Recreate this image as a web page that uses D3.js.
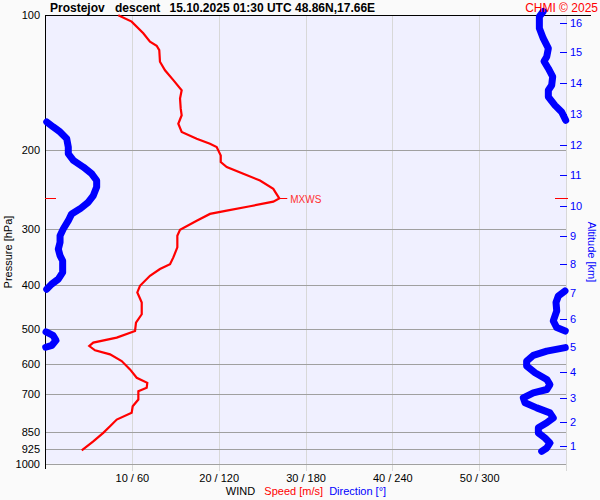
<!DOCTYPE html>
<html lang="en">
<head>
<meta charset="UTF-8">
<title>Prostejov descent</title>
<script src="https://d3js.org/d3.v7.min.js"></script>
<style>
  body { margin: 0; background: #fafafa; }
  svg { display: block; font-family: "Liberation Sans", Arial, sans-serif; }
  .tick line { shape-rendering: crispEdges; }
</style>
</head>
<body>
<svg id="chart" width="600" height="500"></svg>
<script>
// pressure levels (hPa) for grid + left labels
const pressureTicks = [100, 200, 300, 400, 500, 600, 700, 850, 925, 1000];
// speed ticks (m/s); direction = speed * 6
const speedTicks = [10, 20, 30, 40, 50];
// altitude ticks (km) and the pressure they sit at in this sounding
const altKm = [1, 2, 3, 4, 5, 6, 7, 8, 9, 10, 11, 12, 13, 14, 15, 16];
const altP = [913, 806, 712.5, 625.5, 548.4, 476.4, 415.6, 358.6, 310.1, 266.2, 227.4, 194.4, 166.3, 141.8, 120.9, 103.9];

// wind speed profile
const speedP = [100, 103.3, 109.7, 114.5, 116.9, 119.6, 126.9, 132.6, 139.5, 146.9, 153.3, 161.5, 167.1, 174.5, 182.1, 188.5,
  193.4, 196.7, 205.4, 212.5, 218.0, 225.7, 233.6, 243.8, 256, 260.3, 266.6, 272.7, 277.3, 287.1, 300.7, 310.1, 329.2,
  346.7, 358.9, 368.1, 381.1, 401.2, 415.0, 428.1, 437.0, 464.2, 484.4, 505.8, 523.4, 537.0, 546.5, 558.7, 570.4, 590.3,
  616.2, 643.2, 660.0, 677.1, 689.1, 719.1, 744.4, 770.2, 797.2, 825.2, 853.7, 891.5, 933.8];
const speed = [8.44, 9.98, 11.32, 12.09, 12.86, 13.16, 13.24, 13.82, 14.78, 15.74, 15.55, 15.63, 15.74, 15.35, 15.74, 17.47,
  19.0, 19.77, 20.24, 20.24, 20.93, 22.84, 24.76, 26.29, 26.98, 26.29, 23.61, 20.93, 19.0, 17.47, 15.55, 15.24, 15.24,
  14.78, 14.40, 13.24, 12.09, 10.94, 10.63, 10.94, 11.14, 11.14, 10.48, 10.37, 8.26, 5.56, 5.10, 5.76, 7.49, 8.83,
  9.79, 10.56, 11.78, 11.71, 10.75, 10.75, 10.10, 9.98, 8.26, 7.49, 6.71, 5.56, 4.23];

// wind direction profile (deg)
const dirP = [98, 100.7, 106.9, 112.6, 118.5, 123.7, 126.6, 131.4, 137.1, 143.2, 146.9, 152.0, 158.8, 164.3, 171.5,
  172.9, 177.4, 182.0, 188.4, 196.7, 203.6, 210.7, 218.0, 225.7, 233.6, 241.6, 252.4, 261.1, 270.2, 277.3, 287.1, 299.6,
  310.1, 320.8, 332.1, 343.7, 352.7, 374.5, 387.6, 397.7, 408.1,
  411.8, 422.6, 437.0, 456.3, 480.4, 497.1, 506,
  508, 517.3, 530.7, 544.5, 550,
  551, 561.0, 573.3, 590.3, 605.7, 626.8, 648.8, 665.9, 683.2, 694.9, 712.9, 731.6, 750.7, 770.2, 790.2, 810.6, 831.8,
  853.7, 876.1, 899.1, 922.5, 938.8];
const dir = [344.3, 341.6, 341.6, 344.3, 347.8, 346.7, 344.8, 347.8, 350.8, 350.1, 347.8, 347.8, 352.4, 357.0, 359.8,
  1.2, 5.7, 10.4, 15.0, 16.1, 16.1, 19.6, 26.5, 32.3, 35.7, 35.7, 33.4, 29.9, 24.2, 18.4, 16.1, 12.6,
  10.4, 10.4, 9.2, 10.4, 12.2, 12.2, 9.2, 4.6, 1.2,
  359.3, 354.7, 353.1, 353.6, 351.2, 353.6, 359.5,
  0.7, 5.5, 7.6, 4.8, 0.5,
  359.5, 346.7, 337.4, 332.8, 332.8, 338.6, 346.7, 348.9, 346.7, 337.4, 330.5, 331.7, 339.8, 348.9, 351.2, 346.7, 340.9,
  340.9, 345.5, 348.9, 346.7, 343.2];

const plotL = 45, plotR = 566, plotT = 15.3, plotB = 463.7;

const svg = d3.select("#chart");

const y = d3.scaleLog().domain([100, 1000]).range([plotT, plotB]);
const xs = d3.scaleLinear().domain([0, 60]).range([plotL, plotR]);
const xd = d3.scaleLinear().domain([0, 360]).range([plotL, plotR]);

// plot background
svg.append("rect")
  .attr("x", plotL).attr("y", plotT)
  .attr("width", plotR - plotL).attr("height", plotB - plotT)
  .attr("fill", "#f0f0ff");

// vertical grid
svg.append("g").selectAll("line")
  .data(speedTicks.concat([60]))
  .join("line")
  .attr("x1", d => Math.round(xs(d)) + 0.5).attr("x2", d => Math.round(xs(d)) + 0.5)
  .attr("y1", plotT).attr("y2", 471)
  .attr("stroke", "#d8d8d8");

// horizontal grid
svg.append("g").selectAll("line")
  .data(pressureTicks.slice(1))
  .join("line")
  .attr("x1", plotL).attr("x2", plotR)
  .attr("y1", d => Math.round(y(d)) + 0.5).attr("y2", d => Math.round(y(d)) + 0.5)
  .attr("stroke", "#a0a0a0");

// pressure labels
const yAxis = svg.append("g")
  .attr("transform", `translate(${plotL},0)`)
  .call(d3.axisLeft(y).tickValues(pressureTicks).tickFormat(d3.format("d")).tickSize(0).tickPadding(5));
yAxis.select(".domain").remove();
yAxis.selectAll("text").attr("font-size", 11).attr("fill", "#000").attr("font-family", "Liberation Sans, Arial, sans-serif");

// speed / direction labels
const xAxis = svg.append("g")
  .attr("transform", "translate(0,471)")
  .call(d3.axisBottom(xs).tickValues(speedTicks).tickFormat(d => `${d} / ${d * 6}`).tickSize(0).tickPadding(3));
xAxis.select(".domain").remove();
xAxis.selectAll("text").attr("font-size", 11).attr("fill", "#000").attr("font-family", "Liberation Sans, Arial, sans-serif");

// altitude axis
const altAxis = svg.append("g")
  .attr("transform", "translate(560,0)")
  .call(d3.axisRight(y).tickValues(altP).tickFormat((d, i) => altKm[i]).tickSize(7).tickPadding(3));
altAxis.select(".domain").remove();
altAxis.selectAll("line").attr("stroke", "#0000ff");
altAxis.selectAll("text").attr("font-size", 11).attr("fill", "#0000ff").attr("font-family", "Liberation Sans, Arial, sans-serif");

// frame lines
svg.append("line").attr("x1", plotL).attr("x2", 591).attr("y1", 15.5).attr("y2", 15.5).attr("stroke", "#000");
svg.append("line").attr("x1", plotL + 0.5).attr("x2", plotL + 0.5).attr("y1", 15).attr("y2", 469).attr("stroke", "#000");

// wind direction: split where it wraps through north
const dirSegs = [];
let seg = [];
dir.forEach((d, i) => {
  if (i > 0 && Math.abs(d - dir[i - 1]) > 180) { dirSegs.push(seg); seg = []; }
  seg.push([d, dirP[i]]);
});
dirSegs.push(seg);

const dirLine = d3.line().x(d => xd(d[0])).y(d => y(d[1]));
svg.append("g").selectAll("path")
  .data(dirSegs)
  .join("path")
  .attr("d", dirLine)
  .attr("fill", "none")
  .attr("stroke", "#0000ff")
  .attr("stroke-width", 7)
  .attr("stroke-linecap", "round")
  .attr("stroke-linejoin", "round");

// wind speed
const spd = speed.map((s, i) => [s, speedP[i]]);
svg.append("path")
  .datum(spd)
  .attr("d", d3.line().x(d => xs(d[0])).y(d => y(d[1])))
  .attr("fill", "none")
  .attr("stroke", "#ff0000")
  .attr("stroke-width", 2.2);

// max wind marker
const mx = spd[d3.maxIndex(spd, d => d[0])];
const my = Math.round(y(mx[1])) + 0.5;
svg.append("line").attr("x1", xs(mx[0])).attr("x2", xs(mx[0]) + 8).attr("y1", my).attr("y2", my).attr("stroke", "#ff0000");
svg.append("line").attr("x1", plotL).attr("x2", plotL + 11).attr("y1", my).attr("y2", my).attr("stroke", "#ff0000");
svg.append("line").attr("x1", 555).attr("x2", 568).attr("y1", my).attr("y2", my).attr("stroke", "#ff0000");
svg.append("text").attr("x", xs(mx[0]) + 11).attr("y", my + 4)
  .attr("font-size", 10).attr("fill", "#ff3030").text("MXWS");

// title
const title = [["Prostejov", 50], ["descent", 115], ["15.10.2025 01:30 UTC", 169.5], ["48.86N,17.66E", 295]];
svg.append("g").selectAll("text")
  .data(title)
  .join("text")
  .attr("x", d => d[1]).attr("y", 12)
  .attr("font-size", 12).attr("font-weight", "bold")
  .text(d => d[0]);
svg.append("text").attr("x", 598).attr("y", 12).attr("text-anchor", "end")
  .attr("font-size", 12).attr("fill", "#ff0000").text("CHMI © 2025");

// axis titles
svg.append("text")
  .attr("transform", "translate(12,252) rotate(-90)")
  .attr("text-anchor", "middle").attr("font-size", 11)
  .text("Pressure [hPa]");
svg.append("text")
  .attr("transform", "translate(588,252) rotate(90)")
  .attr("text-anchor", "middle").attr("font-size", 11).attr("fill", "#0000ff")
  .text("Altitude [km]");

// legend row
const legend = svg.append("text").attr("x", 306).attr("y", 495).attr("text-anchor", "middle").attr("font-size", 11)
  .attr("xml:space", "preserve").style("white-space", "pre");
legend.append("tspan").attr("fill", "#000").text("WIND   ");
legend.append("tspan").attr("fill", "#ff0000").text("Speed [m/s]  ");
legend.append("tspan").attr("fill", "#0000ff").text("Direction [°]");
</script>
</body>
</html>
